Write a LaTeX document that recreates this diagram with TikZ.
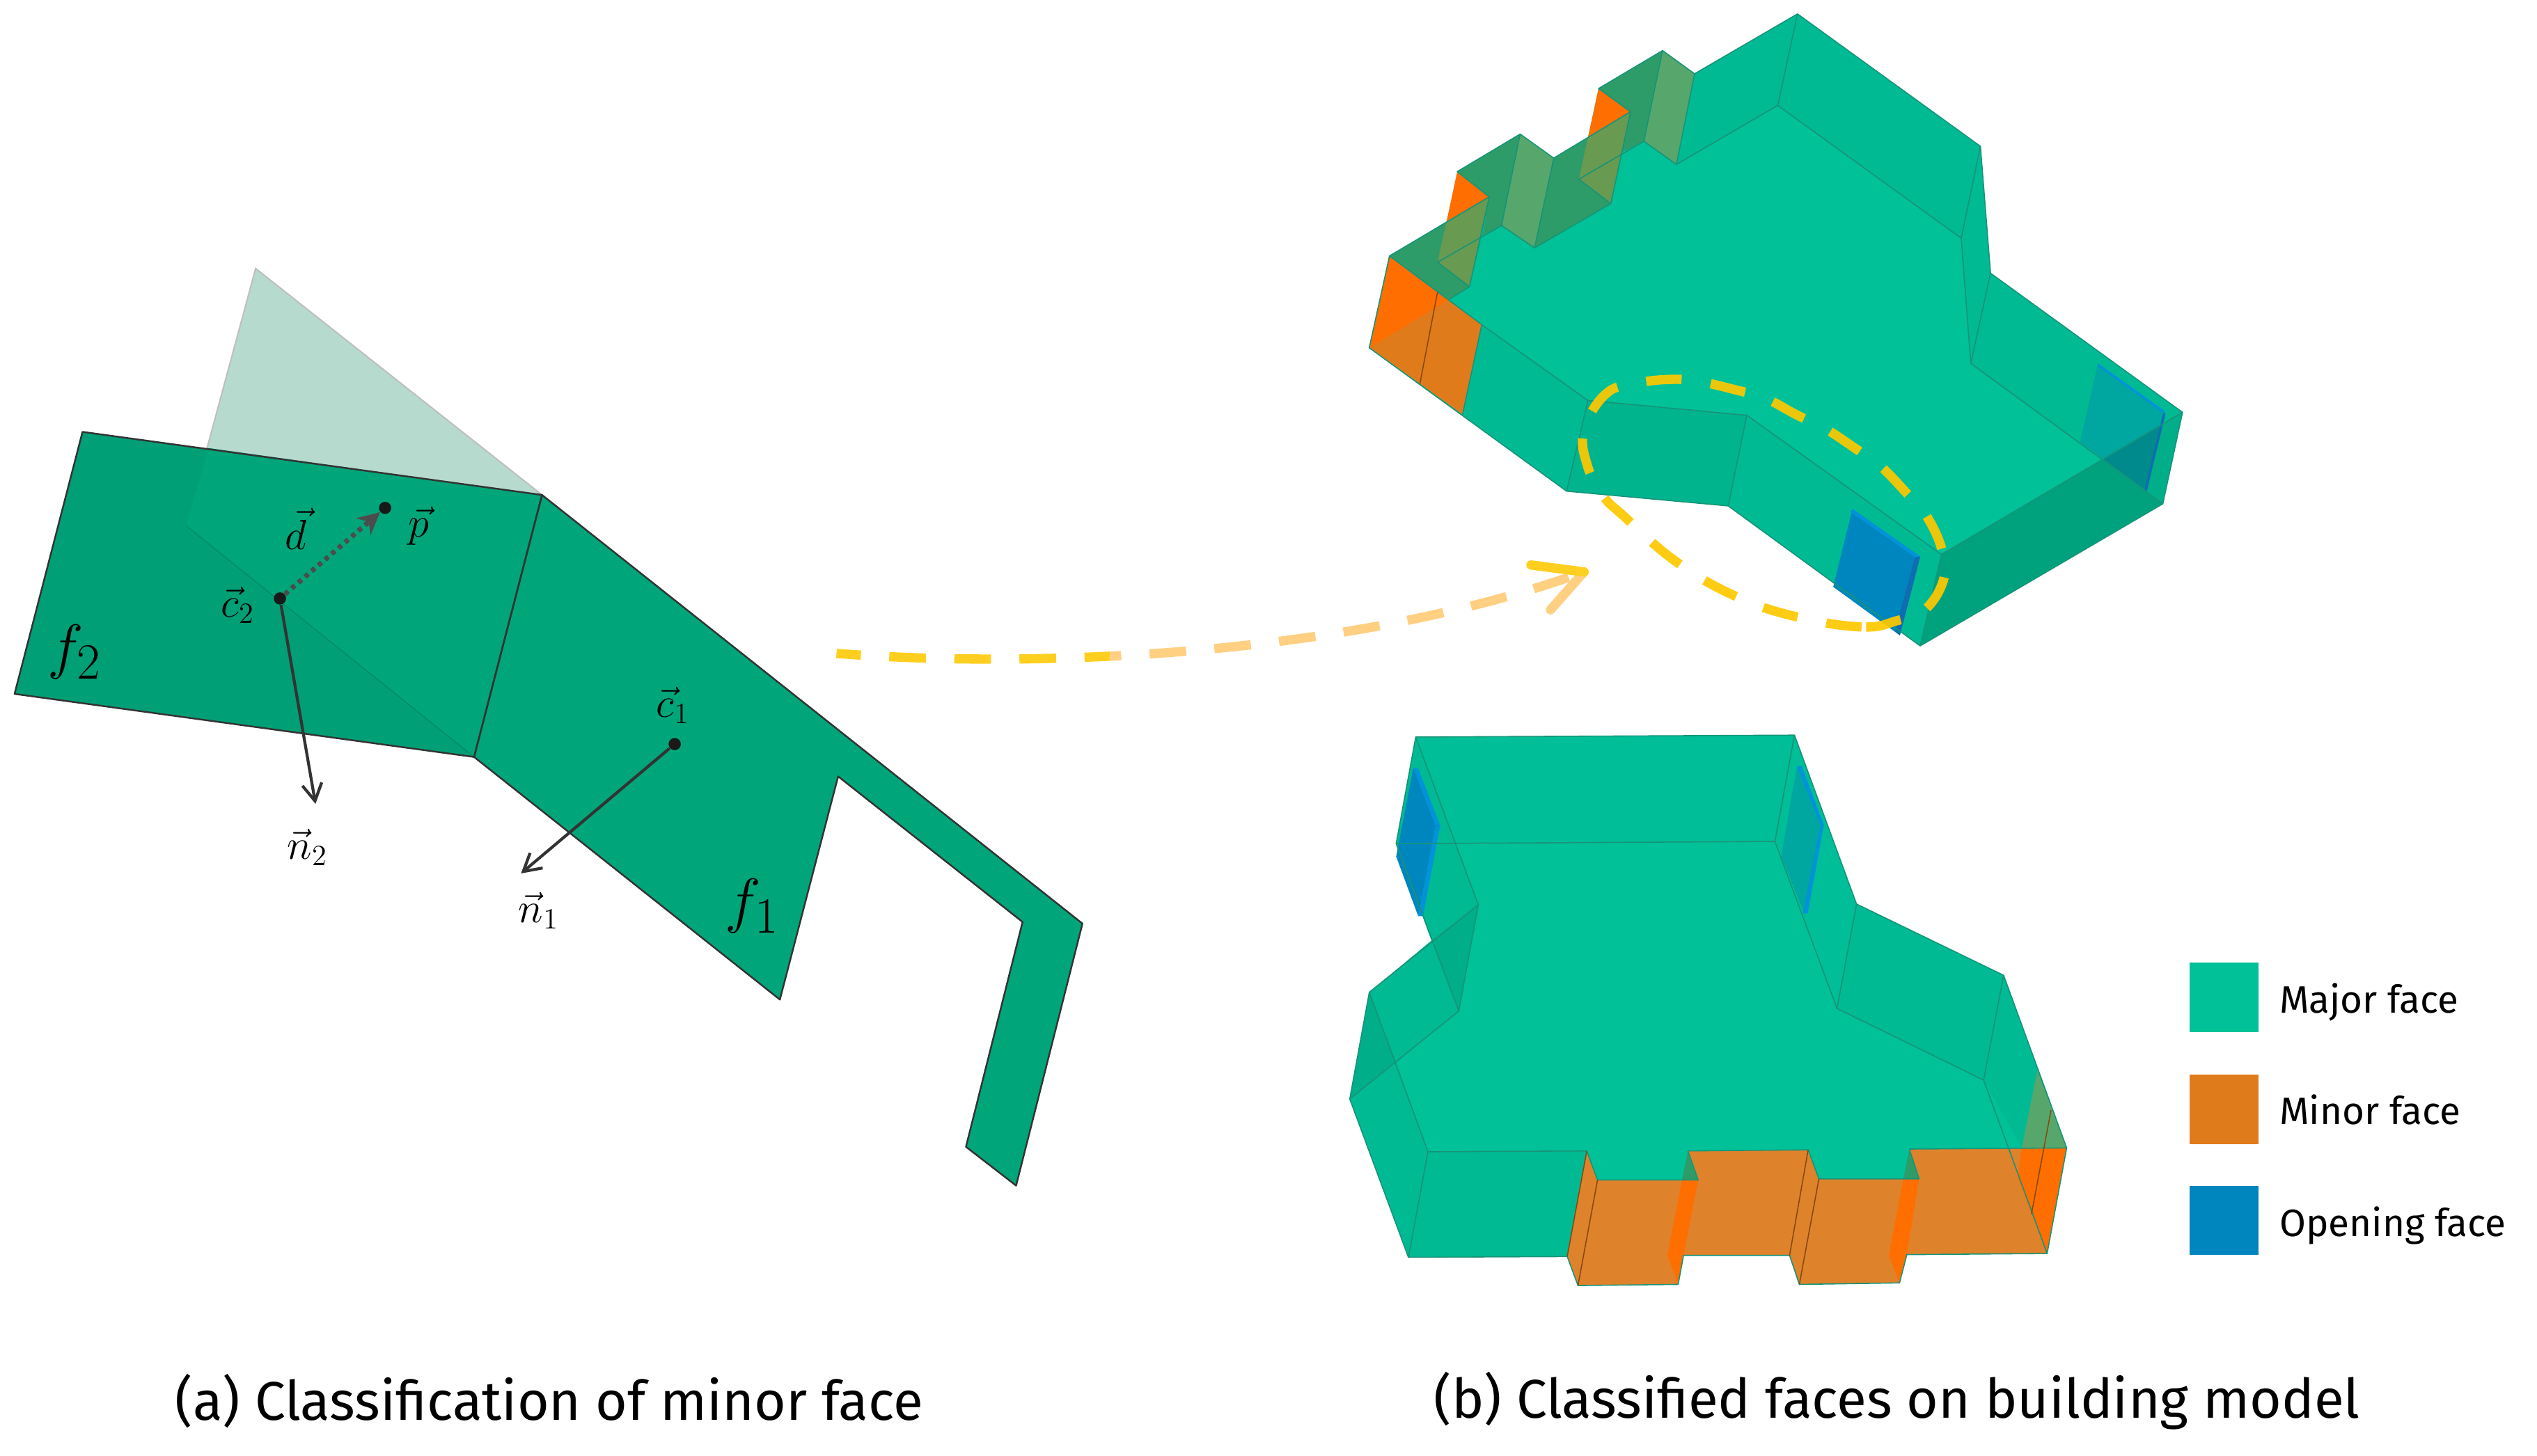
\documentclass[tikz,border=0pt]{standalone}
\usepackage{amsmath}
\usepackage{fontspec}
\setsansfont{Fira Sans}
\usetikzlibrary{arrows.meta}

\definecolor{facedark}{HTML}{009F75}
\definecolor{facelight}{HTML}{00A679}
\definecolor{ghostcol}{HTML}{B6DBCE}
\definecolor{majorcol}{HTML}{00C197}
\definecolor{backwall}{HTML}{00BE97}
\definecolor{wallcol}{HTML}{00BA94}
\definecolor{walldeep}{HTML}{00B48E}
\definecolor{frontcol}{HTML}{00A27E}
\definecolor{sidecol}{HTML}{00AE8A}
\definecolor{minorcol}{HTML}{E07B1C}
\definecolor{minorsoft}{HTML}{DF822C}
\definecolor{pureorange}{HTML}{FF6E00}
\definecolor{notchcol}{HTML}{2E9C68}
\definecolor{notchlight}{HTML}{57A76C}
\definecolor{olivecol}{HTML}{689A52}
\definecolor{openingcol}{HTML}{0086BE}
\definecolor{openinglit}{HTML}{0093D8}
\definecolor{openingdeep}{HTML}{0F6DB0}
\definecolor{teallit}{HTML}{00A6A0}
\definecolor{tealdeep}{HTML}{008A8B}
\definecolor{seamcol}{HTML}{169478}
\definecolor{ringcol}{HTML}{FFC800}
\definecolor{arrowone}{HTML}{FFCF20}
\definecolor{arrowtwo}{HTML}{FFCF82}

\tikzset{
  faceedge/.style={draw=black!80, line width=0.7pt, line join=round},
  seam/.style={draw=seamcol, line width=0.45pt, line join=round},
  dot/.style={circle, fill=black!90, inner sep=0pt, minimum size=5pt},
  vecarrow/.style={-{Straight Barb[length=7pt,width=8pt]}, draw=black!80, line width=1.2pt},
  veclabel/.style={inner sep=0pt, font=\fontsize{18}{18}\selectfont},
  facelabel/.style={inner sep=0pt, font=\fontsize{28}{28}\selectfont},
  caption/.style={inner sep=0pt, font=\sffamily\fontsize{22.3}{22.3}\selectfont},
  legendtext/.style={inner sep=0pt, anchor=base west, font=\sffamily\fontsize{15.6}{15.6}\selectfont},
  swatch/.style={inner sep=0pt, minimum size=0.997cm},
  ringline/.style={draw=ringcol, opacity=0.92, line width=3.8pt, dash pattern=on 14.5pt off 12pt},
  bigdash/.style={line width=3.8pt, dash pattern=on 15pt off 11.6pt, dash phase=5pt},
}

\begin{document}
\begin{tikzpicture}[x=0.02324cm, y=-0.02324cm]
  \useasboundingbox (0,0) rectangle (1568,899.75);

  % Classification of minor face
  \fill[ghostcol, draw=black!25, line width=0.6pt] (158,166) -- (335,306) -- (293,468) -- (115,325) -- cycle;
  \fill[facedark] (51,267) -- (335,306) -- (293,468) -- (9,429) -- cycle;
  \fill[facelight] (129,277) -- (335,306) -- (293,468) -- (115,325) -- cycle;
  \draw[draw=black!12!facedark, line width=0.4pt] (115,325) -- (293,468);
  \draw[faceedge, fill=facelight] (335,306) -- (669,571) -- (628,733) -- (597,709) -- (632,570) -- (518,480) -- (482,618) -- (293,468) -- cycle;
  \draw[faceedge] (51,267) -- (335,306) -- (293,468) -- (9,429) -- cycle;

  % Centres and vectors
  \node[dot] (c2) at (173,370) {};
  \node[dot] (p) at (238,314) {};
  \node[dot] (c1) at (417,460) {};
  \coordinate (n2tip) at (195,497);
  \coordinate (n1tip) at (322,540);
  \draw[draw=black!70, line width=2pt, dash pattern=on 1.8pt off 1.8pt, -{Stealth[length=9pt,width=9pt,black!70]}] (c2) -- (p);
  \draw[vecarrow] (c2) -- (n2tip);
  \draw[vecarrow] (c1) -- (n1tip);
  \node[veclabel] (c2label) at (147,374) {$\vec{c}_2$};
  \node[veclabel] (dlabel) at (183,327) {$\vec{d}$};
  \node[veclabel] (plabel) at (259,325) {$\vec{p}$};
  \node[veclabel] (c1label) at (416,436) {$\vec{c}_1$};
  \node[veclabel] (n2label) at (190,524) {$\vec{n}_2$};
  \node[veclabel] (n1label) at (333,563) {$\vec{n}_1$};
  \node[facelabel] (f2label) at (46,403) {$f_2$};
  \node[facelabel] (f1label) at (465,560) {$f_1$};

  % Upper model
  \begin{scope}[shift={(839,0)}, x=0.007653cm, y=-0.006059cm]
    \fill[wallcol] (825,33) -- (1168,347) -- (1187,648) -- (1547,978) -- (1510,1195) -- (1055,1532) -- (695,1200) -- (392,1165) -- (22,825) -- (60,607) -- (187,510) -- (187,407) -- (305,318) -- (368,375) -- (432,327) -- (452,210) -- (572,120) -- (632,175) -- cycle;
    \fill[walldeep] (432,950) -- (730,985) -- (695,1200) -- (392,1165) -- cycle;
    \fill[frontcol] (1095,1315) -- (1397,1090) -- (1510,1195) -- (1055,1532) -- cycle;
    \fill[sidecol] (1397,1090) -- (1547,978) -- (1510,1195) -- cycle;
    \fill[majorcol] (788,250) -- (598,390) -- (537,335) -- (497,360) -- (475,483) -- (332,588) -- (270,535) -- (235,558) -- (210,680) -- (172,710) -- (233,770) -- (432,950) -- (730,985) -- (1095,1315) -- (1397,1090) -- (1150,862) -- (1132,565) -- cycle;
    % notches
    \fill[notchcol] (60,607) -- (247,467) -- (210,680) -- (172,710) -- cycle;
    \fill[notchcol] (187,407) -- (305,318) -- (270,535) -- (235,558) -- (247,467) -- cycle;
    \fill[notchcol] (368,375) -- (512,265) -- (475,483) -- (332,588) -- cycle;
    \fill[notchcol] (452,210) -- (572,120) -- (537,335) -- (497,360) -- (512,265) -- cycle;
    \fill[notchlight] (305,318) -- (368,375) -- (332,588) -- (270,535) -- cycle;
    \fill[notchlight] (572,120) -- (632,175) -- (598,390) -- (537,335) -- cycle;
    \fill[olivecol] (167,525) -- (247,467) -- (210,680) -- (150,622) -- cycle;
    \fill[olivecol] (432,327) -- (512,265) -- (475,483) -- (415,425) -- cycle;
    \fill[pureorange] (187,407) -- (247,467) -- (167,525) -- cycle;
    \fill[pureorange] (452,210) -- (512,265) -- (432,327) -- cycle;
    % minor faces
    \fill[minorcol] (60,607) -- (22,825) -- (117,910) -- (197,983) -- (233,770) -- (150,693) -- cycle;
    \fill[pureorange] (60,607) -- (22,825) -- (172,710) -- (150,693) -- cycle;
    % opening faces
    \fill[openingcol] (928,1207) -- (1055,1320) -- (1017,1507) -- (892,1392) -- cycle;
    \fill[openinglit] (928,1207) -- (1055,1320) -- (1050,1326) -- (924,1214) -- cycle;
    \fill[openingdeep] (1055,1320) -- (1017,1507) -- (1008,1498) -- (1045,1322) -- cycle;
    \fill[teallit] (1388,865) -- (1513,980) -- (1478,1163) -- (1355,1048) -- cycle;
    \fill[tealdeep] (1398,1089) -- (1507,1008) -- (1478,1163) -- cycle;
    \draw[openinglit, line width=1pt] (1388,865) -- (1513,978);
    \draw[openingdeep, line width=1pt] (1513,980) -- (1478,1163);
    % edges
    \draw[seam] (825,33) -- (1168,347) -- (1187,648) -- (1547,978) -- (1510,1195) -- (1055,1532) -- (695,1200) -- (392,1165) -- (22,825) -- (60,607);
    \draw[seam] (788,250) -- (1132,565) -- (1150,862) -- (1510,1195);
    \draw[seam] (60,607) -- (247,467) -- (187,407) -- (305,318) -- (368,375) -- (512,265) -- (452,210) -- (572,120) -- (632,175) -- (825,33) -- (788,250) -- (598,390) -- (537,335) -- (415,425) -- (475,483) -- (332,588) -- (270,535) -- (150,622) -- (210,680) -- (172,710);
    \draw[seam] (60,607) -- (233,770) -- (432,950) -- (730,985) -- (1095,1315) -- (1547,978);
    \draw[seam] (1168,347) -- (1132,565);
    \draw[seam] (1187,648) -- (1150,862);
    \draw[seam] (1095,1315) -- (1055,1532);
    \draw[seam] (730,985) -- (695,1200);
    \draw[seam] (432,950) -- (392,1165);
    \draw[seam] (233,770) -- (197,983);
    \draw[seam, draw=black!40!minorcol] (150,693) -- (117,910);
    \draw[seam] (247,467) -- (210,680);
    \draw[seam] (305,318) -- (270,535);
    \draw[seam] (368,375) -- (332,588);
    \draw[seam] (512,265) -- (475,483);
    \draw[seam] (572,120) -- (537,335);
    \draw[seam] (632,175) -- (598,390);
    % highlighted corner
    \draw[ringline] plot[smooth cycle, tension=0.7] coordinates {(1012,1472) (945,1487) (820,1462) (705,1412) (595,1330) (500,1225) (460,1175) (430,1100) (425,1020) (465,935) (520,910) (585,900) (640,905) (710,925) (765,945) (825,985) (875,1015) (935,1065) (980,1105) (1030,1170) (1065,1220) (1095,1300) (1100,1370) (1065,1445)};
  \end{scope}

  % Pointer to the corner
  \coordinate (pointerstart) at (517,404);
  \coordinate (pointertip) at (979,353.6);
  \foreach \xa/\xb/\pointercol in {500/686/arrowone,686/1000/arrowtwo}{
    \begin{scope}
      \clip (\xa,330) rectangle (\xb,430);
      \draw[bigdash, draw=\pointercol] (pointerstart) .. controls (650,414) and (840,404) .. (pointertip);
    \end{scope}
  }
  \draw[draw=arrowtwo, line width=3.8pt, line cap=round] (pointertip) -- (958.3,377);
  \draw[draw=arrowone, line width=3.8pt, line cap=round] (946.2,349.3) -- (pointertip);

  % Lower model
  \begin{scope}[shift={(817.6,447.5)}, x=0.007015cm, y=-0.005421cm]
    \fill[wallcol] (190,35) -- (965,30) -- (1092,478) -- (1393,667) -- (1522,1125) -- (1482,1405) -- (1195,1408) -- (1180,1483) -- (975,1487) -- (955,1410) -- (738,1410) -- (727,1487) -- (522,1490) -- (500,1413) -- (175,1415) -- (55,995) -- (95,712) -- (222,575) -- (150,318) -- cycle;
    \fill[backwall] (190,35) -- (965,30) -- (1092,478) -- (1052,755) -- (925,312) -- (272,316) -- cycle;
    \fill[majorcol] (272,316) -- (925,312) -- (1052,755) -- (1352,945) -- (1430,1125) -- (1200,1128) -- (1220,1207) -- (1015,1207) -- (993,1130) -- (747,1133) -- (768,1210) -- (562,1210) -- (540,1133) -- (215,1135) -- (150,897) -- (278,762) -- (318,480) -- cycle;
    \fill[sidecol] (222,575) -- (318,480) -- (278,762) -- cycle;
    \fill[sidecol] (95,712) -- (150,897) -- (55,995) -- cycle;
    % minor faces
    \fill[minorsoft] (540,1133) -- (562,1210) -- (522,1490) -- (500,1413) -- cycle;
    \fill[minorsoft] (562,1210) -- (768,1210) -- (727,1487) -- (522,1490) -- cycle;
    \fill[minorsoft] (747,1133) -- (993,1130) -- (955,1410) -- (738,1410) -- cycle;
    \fill[minorsoft] (993,1130) -- (1015,1207) -- (975,1487) -- (955,1410) -- cycle;
    \fill[minorsoft] (1015,1207) -- (1220,1207) -- (1180,1483) -- (975,1487) -- cycle;
    \fill[minorsoft] (1200,1128) -- (1522,1125) -- (1482,1405) -- (1195,1408) -- cycle;
    \fill[pureorange] (735,1210) -- (768,1210) -- (738,1410) -- (727,1487) -- (705,1410) -- cycle;
    \fill[pureorange] (1188,1207) -- (1220,1207) -- (1195,1408) -- (1180,1483) -- (1158,1410) -- cycle;
    \fill[pureorange] (1430,1127) -- (1522,1125) -- (1482,1405) -- (1422,1205) -- cycle;
    \fill[notchcol] (747,1133) -- (768,1210) -- (735,1210) -- cycle;
    \fill[notchcol] (1200,1128) -- (1220,1207) -- (1188,1207) -- cycle;
    \fill[notchlight] (1462,920) -- (1522,1125) -- (1430,1125) -- cycle;
    % opening faces
    \fill[openingcol] (185,118) -- (240,270) -- (195,510) -- (150,352) -- cycle;
    \fill[openinglit] (185,118) -- (195,118) -- (240,270) -- (230,270) -- cycle;
    \fill[openinglit] (230,272) -- (240,270) -- (205,510) -- (195,510) -- cycle;
    \fill[teallit] (970,113) -- (1025,268) -- (985,503) -- (938,350) -- cycle;
    \fill[openinglit] (970,113) -- (980,113) -- (1025,268) -- (1018,268) -- cycle;
    \fill[openinglit] (1018,270) -- (1025,268) -- (992,503) -- (982,503) -- cycle;
    % edges
    \draw[seam] (190,35) -- (965,30) -- (1092,478) -- (1393,667) -- (1522,1125) -- (1482,1405) -- (1195,1408) -- (1180,1483) -- (975,1487) -- (955,1410) -- (738,1410) -- (727,1487) -- (522,1490) -- (500,1413) -- (175,1415) -- (55,995) -- (95,712) -- (318,480) -- (190,35) -- (150,318) -- (278,762);
    \draw[seam] (150,318) -- (925,312) -- (1052,755) -- (1352,945) -- (1482,1405);
    \draw[seam] (965,30) -- (925,312);
    \draw[seam] (1092,478) -- (1052,755);
    \draw[seam] (1393,667) -- (1352,945);
    \draw[seam] (318,480) -- (278,762) -- (55,995);
    \draw[seam] (95,712) -- (215,1135) -- (175,1415);
    \draw[seam] (215,1135) -- (540,1133) -- (562,1210) -- (768,1210) -- (747,1133) -- (993,1130) -- (1015,1207) -- (1220,1207) -- (1200,1128) -- (1522,1125);
    \draw[seam, draw=black!40!minorcol] (540,1133) -- (500,1413);
    \draw[seam, draw=black!40!minorcol] (562,1210) -- (522,1490);
    \draw[seam, draw=black!40!minorcol] (993,1130) -- (955,1410);
    \draw[seam, draw=black!40!minorcol] (1015,1207) -- (975,1487);
    \draw[seam, draw=black!40!minorcol] (1490,1025) -- (1450,1300);
  \end{scope}

  % Legend
  \foreach \ypos/\swatchy/\facecol/\facename in {626.5/616.5/majorcol/Major face,695.3/686/minorcol/Minor face,764.2/754.5/openingcol/Opening face}{
    \node[swatch, fill=\facecol] (swatch\facecol) at (1374.5,\swatchy) {};
    \node[legendtext] (legend\facecol) at (1408.5,\ypos) {\facename};
  }

  % Captions
  \node[caption] (captiona) at (339.5,866) {(a) Classification of minor face};
  \node[caption] (captionb) at (1172.5,866) {(b) Classified faces on building model};
\end{tikzpicture}
\end{document}
